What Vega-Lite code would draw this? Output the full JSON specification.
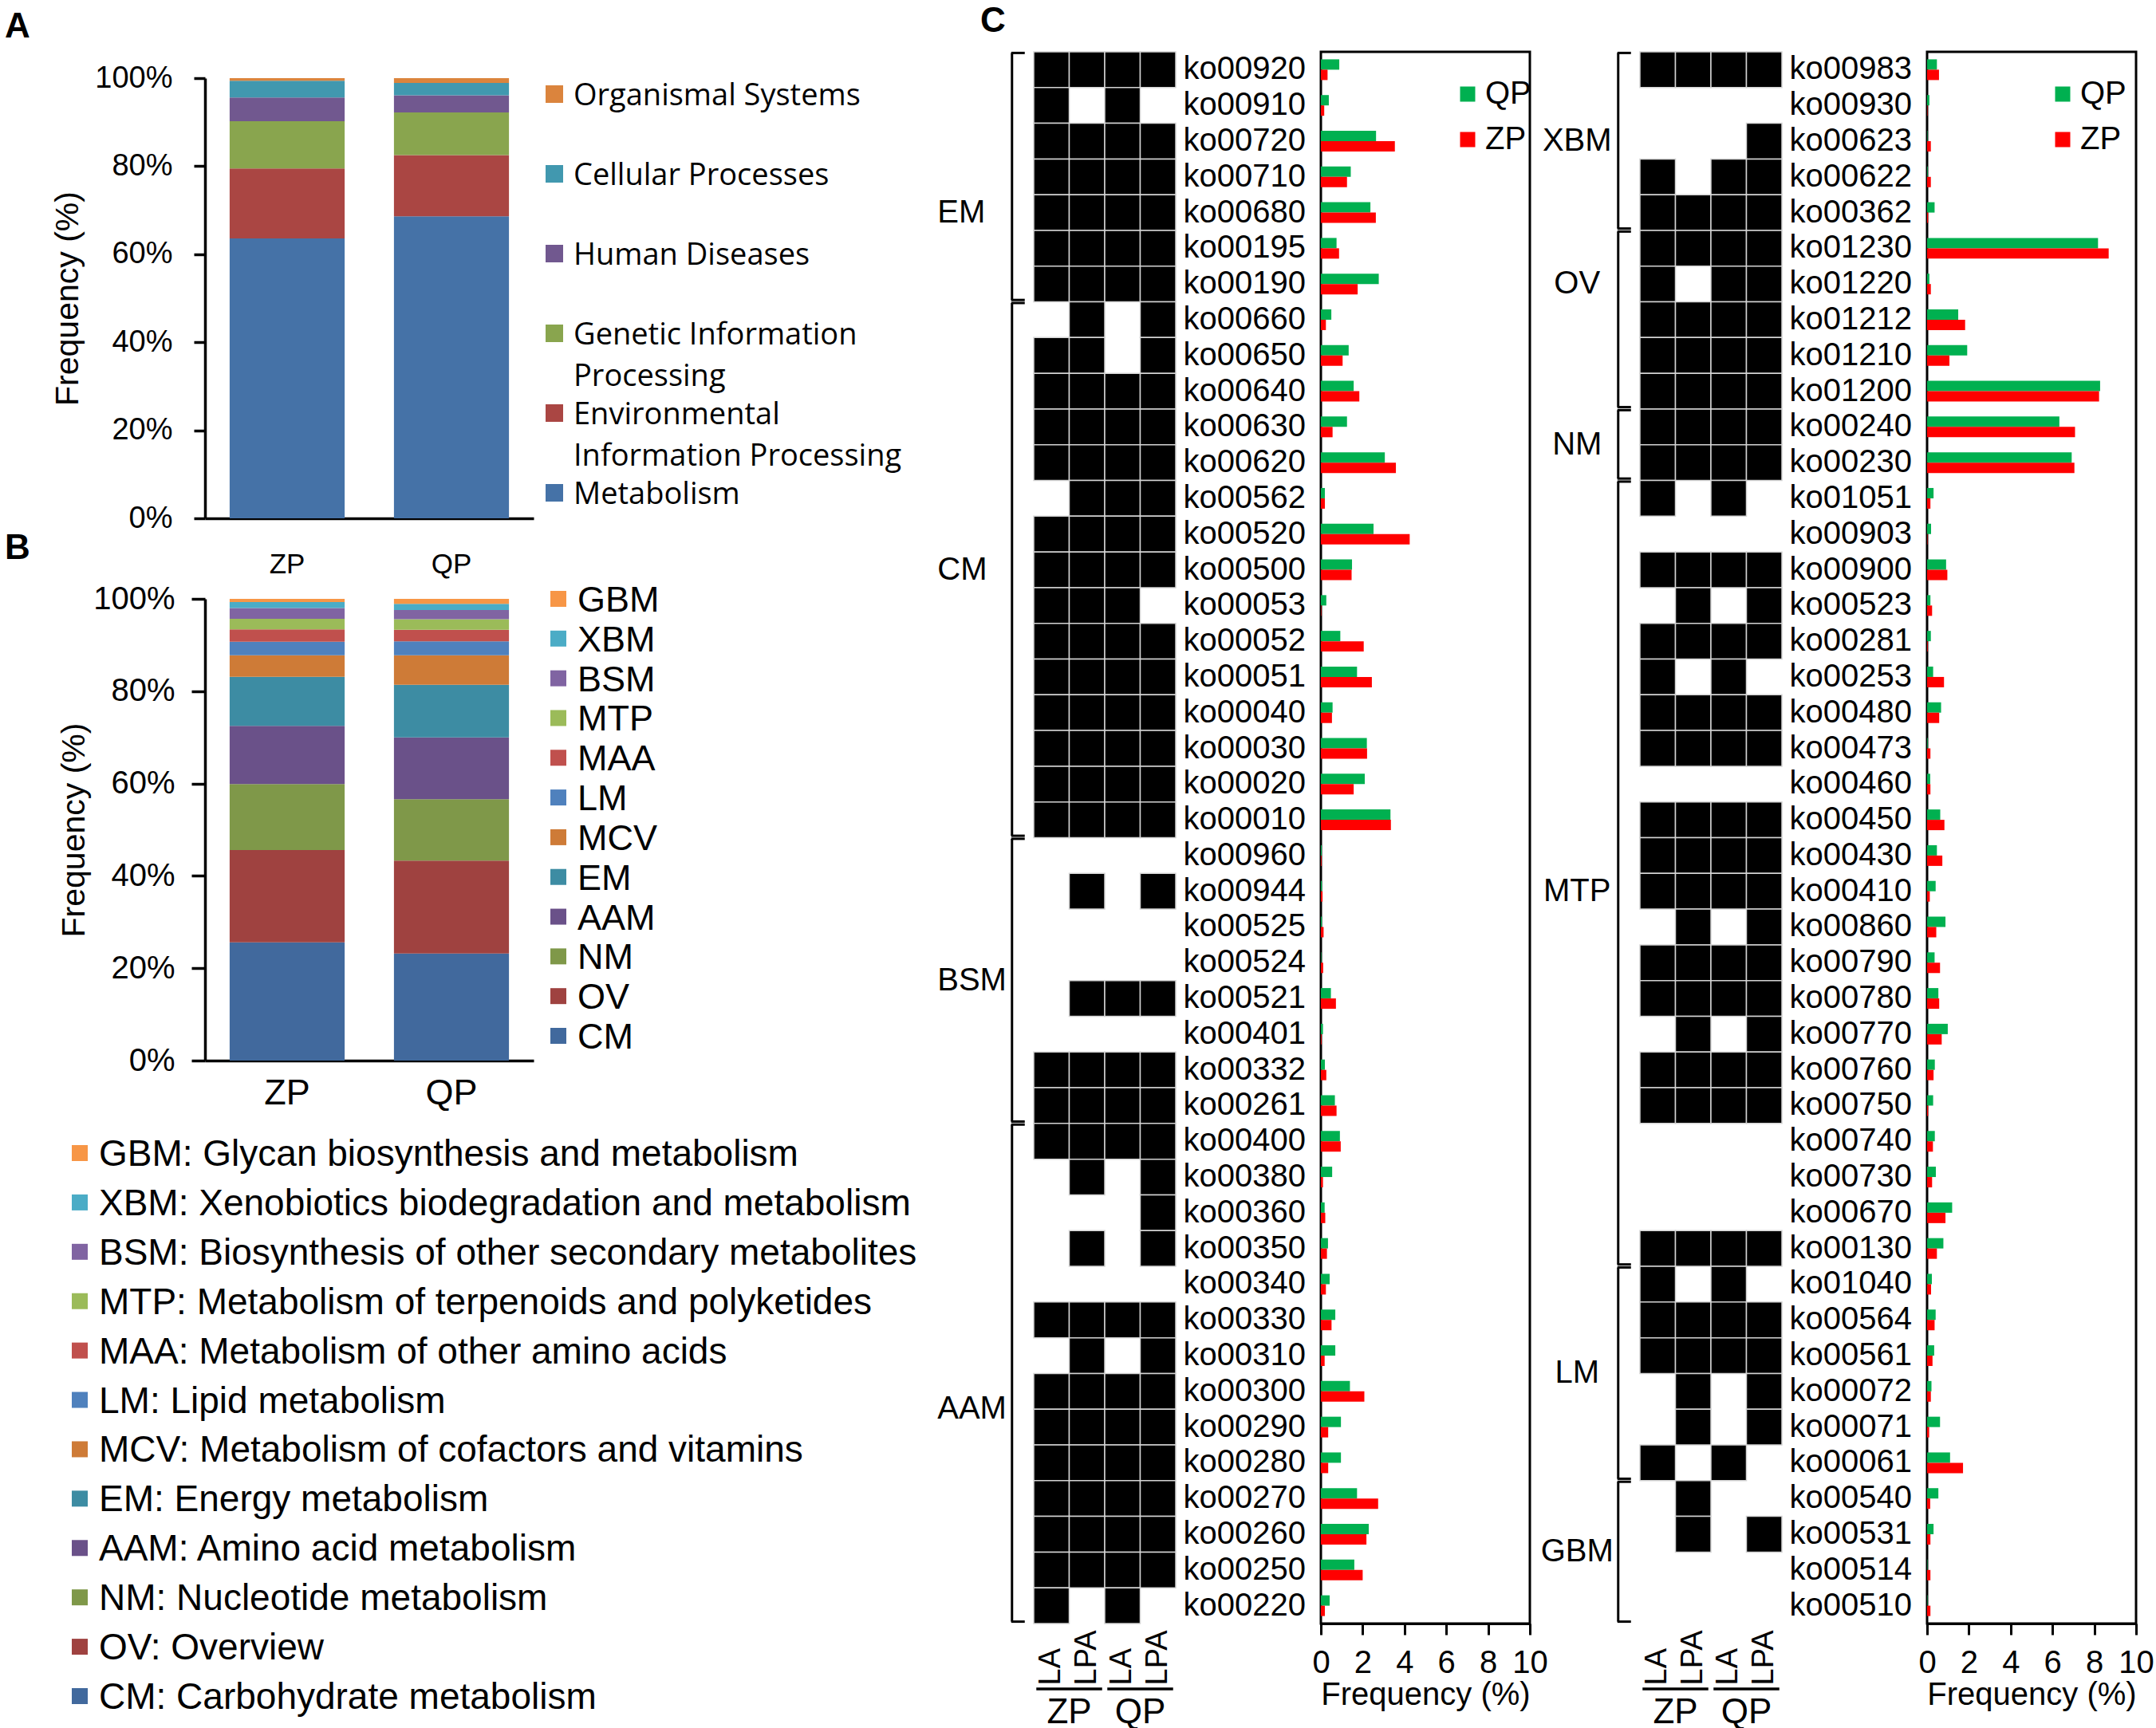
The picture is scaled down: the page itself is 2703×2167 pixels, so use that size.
{
"$schema": "https://vega.github.io/schema/vega-lite/v6.json",
"autosize": {"type": "pad"},
"padding": {"left": 6, "top": 5, "right": 0, "bottom": 0},
"background": "white",
"config": {
  "font": "Liberation Sans",
  "view": {"stroke": null},
  "axis": {"domainColor": "#000", "tickColor": "#000", "labelColor": "#000", "titleColor": "#000", "grid": false, "labelFont": "Liberation Sans", "titleFont": "Liberation Sans", "titleFontWeight": "normal"},
  "legend": {"labelFont": "Liberation Sans", "labelColor": "#000"},
  "title": {"font": "Liberation Sans", "color": "#000"}
},
"datasets": {
  "A": [
    {"s":"ZP","cat":"Metabolism","v":63.6},{"s":"ZP","cat":"Environmental Information Processing","v":15.9},{"s":"ZP","cat":"Genetic Information Processing","v":10.7},{"s":"ZP","cat":"Human Diseases","v":5.4},{"s":"ZP","cat":"Cellular Processes","v":3.8},{"s":"ZP","cat":"Organismal Systems","v":0.6},
    {"s":"QP","cat":"Metabolism","v":68.6},{"s":"QP","cat":"Environmental Information Processing","v":13.9},{"s":"QP","cat":"Genetic Information Processing","v":9.7},{"s":"QP","cat":"Human Diseases","v":3.9},{"s":"QP","cat":"Cellular Processes","v":2.8},{"s":"QP","cat":"Organismal Systems","v":1.1}
  ],
  "legA": [
    {"cat":"Organismal Systems","label":"Organismal Systems"},
    {"cat":"Cellular Processes","label":"Cellular Processes"},
    {"cat":"Human Diseases","label":"Human Diseases"},
    {"cat":"Genetic Information Processing","label":"Genetic Information\nProcessing"},
    {"cat":"Environmental Information Processing","label":"Environmental\nInformation Processing"},
    {"cat":"Metabolism","label":"Metabolism"}
  ],
  "B": [
    {"s":"ZP","cat":"CM","v":25.6},{"s":"ZP","cat":"OV","v":20.0},{"s":"ZP","cat":"NM","v":14.3},{"s":"ZP","cat":"AAM","v":12.6},{"s":"ZP","cat":"EM","v":10.6},{"s":"ZP","cat":"MCV","v":4.7},{"s":"ZP","cat":"LM","v":2.9},{"s":"ZP","cat":"MAA","v":2.7},{"s":"ZP","cat":"MTP","v":2.3},{"s":"ZP","cat":"BSM","v":2.3},{"s":"ZP","cat":"XBM","v":1.3},{"s":"ZP","cat":"GBM","v":0.7},
    {"s":"QP","cat":"CM","v":23.2},{"s":"QP","cat":"OV","v":20.1},{"s":"QP","cat":"NM","v":13.3},{"s":"QP","cat":"AAM","v":13.4},{"s":"QP","cat":"EM","v":11.4},{"s":"QP","cat":"MCV","v":6.4},{"s":"QP","cat":"LM","v":3.0},{"s":"QP","cat":"MAA","v":2.5},{"s":"QP","cat":"MTP","v":2.3},{"s":"QP","cat":"BSM","v":2.0},{"s":"QP","cat":"XBM","v":1.3},{"s":"QP","cat":"GBM","v":1.1}
  ],
  "legB": [
    {"cat":"GBM","desc":"GBM: Glycan biosynthesis and metabolism"},
    {"cat":"XBM","desc":"XBM: Xenobiotics biodegradation and metabolism"},
    {"cat":"BSM","desc":"BSM: Biosynthesis of other secondary metabolites"},
    {"cat":"MTP","desc":"MTP: Metabolism of terpenoids and polyketides"},
    {"cat":"MAA","desc":"MAA: Metabolism of other amino acids"},
    {"cat":"LM","desc":"LM: Lipid metabolism"},
    {"cat":"MCV","desc":"MCV: Metabolism of cofactors and vitamins"},
    {"cat":"EM","desc":"EM: Energy metabolism"},
    {"cat":"AAM","desc":"AAM: Amino acid metabolism"},
    {"cat":"NM","desc":"NM: Nucleotide metabolism"},
    {"cat":"OV","desc":"OV: Overview"},
    {"cat":"CM","desc":"CM: Carbohydrate metabolism"}
  ],
  "left": [
    {"ko":"ko00920","ZP LA":1,"ZP LPA":1,"QP LA":1,"QP LPA":1,"QP":0.88,"ZP":0.32},
    {"ko":"ko00910","ZP LA":1,"ZP LPA":0,"QP LA":1,"QP LPA":0,"QP":0.38,"ZP":0.16},
    {"ko":"ko00720","ZP LA":1,"ZP LPA":1,"QP LA":1,"QP LPA":1,"QP":2.64,"ZP":3.54},
    {"ko":"ko00710","ZP LA":1,"ZP LPA":1,"QP LA":1,"QP LPA":1,"QP":1.43,"ZP":1.25},
    {"ko":"ko00680","ZP LA":1,"ZP LPA":1,"QP LA":1,"QP LPA":1,"QP":2.37,"ZP":2.63},
    {"ko":"ko00195","ZP LA":1,"ZP LPA":1,"QP LA":1,"QP LPA":1,"QP":0.75,"ZP":0.87},
    {"ko":"ko00190","ZP LA":1,"ZP LPA":1,"QP LA":1,"QP LPA":1,"QP":2.77,"ZP":1.76},
    {"ko":"ko00660","ZP LA":0,"ZP LPA":1,"QP LA":0,"QP LPA":1,"QP":0.50,"ZP":0.24},
    {"ko":"ko00650","ZP LA":1,"ZP LPA":1,"QP LA":0,"QP LPA":1,"QP":1.33,"ZP":1.04},
    {"ko":"ko00640","ZP LA":1,"ZP LPA":1,"QP LA":1,"QP LPA":1,"QP":1.57,"ZP":1.84},
    {"ko":"ko00630","ZP LA":1,"ZP LPA":1,"QP LA":1,"QP LPA":1,"QP":1.25,"ZP":0.56},
    {"ko":"ko00620","ZP LA":1,"ZP LPA":1,"QP LA":1,"QP LPA":1,"QP":3.06,"ZP":3.59},
    {"ko":"ko00562","ZP LA":0,"ZP LPA":1,"QP LA":1,"QP LPA":1,"QP":0.19,"ZP":0.19},
    {"ko":"ko00520","ZP LA":1,"ZP LPA":1,"QP LA":1,"QP LPA":1,"QP":2.52,"ZP":4.25},
    {"ko":"ko00500","ZP LA":1,"ZP LPA":1,"QP LA":1,"QP LPA":1,"QP":1.49,"ZP":1.47},
    {"ko":"ko00053","ZP LA":1,"ZP LPA":1,"QP LA":1,"QP LPA":0,"QP":0.26,"ZP":0.02},
    {"ko":"ko00052","ZP LA":1,"ZP LPA":1,"QP LA":1,"QP LPA":1,"QP":0.93,"ZP":2.05},
    {"ko":"ko00051","ZP LA":1,"ZP LPA":1,"QP LA":1,"QP LPA":1,"QP":1.73,"ZP":2.44},
    {"ko":"ko00040","ZP LA":1,"ZP LPA":1,"QP LA":1,"QP LPA":1,"QP":0.56,"ZP":0.53},
    {"ko":"ko00030","ZP LA":1,"ZP LPA":1,"QP LA":1,"QP LPA":1,"QP":2.20,"ZP":2.21},
    {"ko":"ko00020","ZP LA":1,"ZP LPA":1,"QP LA":1,"QP LPA":1,"QP":2.10,"ZP":1.57},
    {"ko":"ko00010","ZP LA":1,"ZP LPA":1,"QP LA":1,"QP LPA":1,"QP":3.33,"ZP":3.35},
    {"ko":"ko00960","ZP LA":0,"ZP LPA":0,"QP LA":0,"QP LPA":0,"QP":0.04,"ZP":0.03},
    {"ko":"ko00944","ZP LA":0,"ZP LPA":1,"QP LA":0,"QP LPA":1,"QP":0.05,"ZP":0.08},
    {"ko":"ko00525","ZP LA":0,"ZP LPA":0,"QP LA":0,"QP LPA":0,"QP":0.05,"ZP":0.13},
    {"ko":"ko00524","ZP LA":0,"ZP LPA":0,"QP LA":0,"QP LPA":0,"QP":0.02,"ZP":0.11},
    {"ko":"ko00521","ZP LA":0,"ZP LPA":1,"QP LA":1,"QP LPA":1,"QP":0.48,"ZP":0.72},
    {"ko":"ko00401","ZP LA":0,"ZP LPA":0,"QP LA":0,"QP LPA":0,"QP":0.10,"ZP":0.03},
    {"ko":"ko00332","ZP LA":1,"ZP LPA":1,"QP LA":1,"QP LPA":1,"QP":0.19,"ZP":0.26},
    {"ko":"ko00261","ZP LA":1,"ZP LPA":1,"QP LA":1,"QP LPA":1,"QP":0.67,"ZP":0.75},
    {"ko":"ko00400","ZP LA":1,"ZP LPA":1,"QP LA":1,"QP LPA":1,"QP":0.91,"ZP":0.95},
    {"ko":"ko00380","ZP LA":0,"ZP LPA":1,"QP LA":0,"QP LPA":1,"QP":0.54,"ZP":0.10},
    {"ko":"ko00360","ZP LA":0,"ZP LPA":0,"QP LA":0,"QP LPA":1,"QP":0.18,"ZP":0.21},
    {"ko":"ko00350","ZP LA":0,"ZP LPA":1,"QP LA":0,"QP LPA":1,"QP":0.34,"ZP":0.29},
    {"ko":"ko00340","ZP LA":0,"ZP LPA":0,"QP LA":0,"QP LPA":0,"QP":0.42,"ZP":0.24},
    {"ko":"ko00330","ZP LA":1,"ZP LPA":1,"QP LA":1,"QP LPA":1,"QP":0.69,"ZP":0.51},
    {"ko":"ko00310","ZP LA":0,"ZP LPA":1,"QP LA":0,"QP LPA":1,"QP":0.69,"ZP":0.18},
    {"ko":"ko00300","ZP LA":1,"ZP LPA":1,"QP LA":1,"QP LPA":1,"QP":1.39,"ZP":2.08},
    {"ko":"ko00290","ZP LA":1,"ZP LPA":1,"QP LA":1,"QP LPA":1,"QP":0.96,"ZP":0.35},
    {"ko":"ko00280","ZP LA":1,"ZP LPA":1,"QP LA":1,"QP LPA":1,"QP":0.96,"ZP":0.35},
    {"ko":"ko00270","ZP LA":1,"ZP LPA":1,"QP LA":1,"QP LPA":1,"QP":1.73,"ZP":2.74},
    {"ko":"ko00260","ZP LA":1,"ZP LPA":1,"QP LA":1,"QP LPA":1,"QP":2.29,"ZP":2.18},
    {"ko":"ko00250","ZP LA":1,"ZP LPA":1,"QP LA":1,"QP LPA":1,"QP":1.60,"ZP":2.00},
    {"ko":"ko00220","ZP LA":1,"ZP LPA":0,"QP LA":1,"QP LPA":0,"QP":0.42,"ZP":0.19}
  ],
  "right": [
    {"ko":"ko00983","ZP LA":1,"ZP LPA":1,"QP LA":1,"QP LPA":1,"QP":0.47,"ZP":0.57},
    {"ko":"ko00930","ZP LA":0,"ZP LPA":0,"QP LA":0,"QP LPA":0,"QP":0.11,"ZP":0.02},
    {"ko":"ko00623","ZP LA":0,"ZP LPA":0,"QP LA":0,"QP LPA":1,"QP":0.02,"ZP":0.18},
    {"ko":"ko00622","ZP LA":1,"ZP LPA":0,"QP LA":1,"QP LPA":1,"QP":0.03,"ZP":0.18},
    {"ko":"ko00362","ZP LA":1,"ZP LPA":1,"QP LA":1,"QP LPA":1,"QP":0.36,"ZP":0.05},
    {"ko":"ko01230","ZP LA":1,"ZP LPA":1,"QP LA":1,"QP LPA":1,"QP":8.18,"ZP":8.69},
    {"ko":"ko01220","ZP LA":1,"ZP LPA":0,"QP LA":1,"QP LPA":1,"QP":0.11,"ZP":0.18},
    {"ko":"ko01212","ZP LA":1,"ZP LPA":1,"QP LA":1,"QP LPA":1,"QP":1.49,"ZP":1.82},
    {"ko":"ko01210","ZP LA":1,"ZP LPA":1,"QP LA":1,"QP LPA":1,"QP":1.92,"ZP":1.07},
    {"ko":"ko01200","ZP LA":1,"ZP LPA":1,"QP LA":1,"QP LPA":1,"QP":8.28,"ZP":8.23},
    {"ko":"ko00240","ZP LA":1,"ZP LPA":1,"QP LA":1,"QP LPA":1,"QP":6.33,"ZP":7.08},
    {"ko":"ko00230","ZP LA":1,"ZP LPA":1,"QP LA":1,"QP LPA":1,"QP":6.92,"ZP":7.05},
    {"ko":"ko01051","ZP LA":1,"ZP LPA":0,"QP LA":1,"QP LPA":0,"QP":0.31,"ZP":0.16},
    {"ko":"ko00903","ZP LA":0,"ZP LPA":0,"QP LA":0,"QP LPA":0,"QP":0.19,"ZP":0.02},
    {"ko":"ko00900","ZP LA":1,"ZP LPA":1,"QP LA":1,"QP LPA":1,"QP":0.91,"ZP":0.97},
    {"ko":"ko00523","ZP LA":0,"ZP LPA":1,"QP LA":0,"QP LPA":1,"QP":0.16,"ZP":0.24},
    {"ko":"ko00281","ZP LA":1,"ZP LPA":1,"QP LA":1,"QP LPA":1,"QP":0.18,"ZP":0.03},
    {"ko":"ko00253","ZP LA":1,"ZP LPA":0,"QP LA":1,"QP LPA":0,"QP":0.29,"ZP":0.81},
    {"ko":"ko00480","ZP LA":1,"ZP LPA":1,"QP LA":1,"QP LPA":1,"QP":0.67,"ZP":0.58},
    {"ko":"ko00473","ZP LA":1,"ZP LPA":1,"QP LA":1,"QP LPA":1,"QP":0.03,"ZP":0.16},
    {"ko":"ko00460","ZP LA":0,"ZP LPA":0,"QP LA":0,"QP LPA":0,"QP":0.15,"ZP":0.16},
    {"ko":"ko00450","ZP LA":1,"ZP LPA":1,"QP LA":1,"QP LPA":1,"QP":0.63,"ZP":0.83},
    {"ko":"ko00430","ZP LA":1,"ZP LPA":1,"QP LA":1,"QP LPA":1,"QP":0.47,"ZP":0.73},
    {"ko":"ko00410","ZP LA":1,"ZP LPA":1,"QP LA":1,"QP LPA":1,"QP":0.41,"ZP":0.13},
    {"ko":"ko00860","ZP LA":0,"ZP LPA":1,"QP LA":0,"QP LPA":1,"QP":0.88,"ZP":0.44},
    {"ko":"ko00790","ZP LA":1,"ZP LPA":1,"QP LA":1,"QP LPA":1,"QP":0.36,"ZP":0.62},
    {"ko":"ko00780","ZP LA":1,"ZP LPA":1,"QP LA":1,"QP LPA":1,"QP":0.54,"ZP":0.58},
    {"ko":"ko00770","ZP LA":0,"ZP LPA":1,"QP LA":0,"QP LPA":1,"QP":0.99,"ZP":0.70},
    {"ko":"ko00760","ZP LA":1,"ZP LPA":1,"QP LA":1,"QP LPA":1,"QP":0.37,"ZP":0.31},
    {"ko":"ko00750","ZP LA":1,"ZP LPA":1,"QP LA":1,"QP LPA":1,"QP":0.29,"ZP":0.05},
    {"ko":"ko00740","ZP LA":0,"ZP LPA":0,"QP LA":0,"QP LPA":0,"QP":0.37,"ZP":0.28},
    {"ko":"ko00730","ZP LA":0,"ZP LPA":0,"QP LA":0,"QP LPA":0,"QP":0.42,"ZP":0.24},
    {"ko":"ko00670","ZP LA":0,"ZP LPA":0,"QP LA":0,"QP LPA":0,"QP":1.20,"ZP":0.88},
    {"ko":"ko00130","ZP LA":1,"ZP LPA":1,"QP LA":1,"QP LPA":1,"QP":0.78,"ZP":0.47},
    {"ko":"ko01040","ZP LA":1,"ZP LPA":0,"QP LA":1,"QP LPA":0,"QP":0.23,"ZP":0.19},
    {"ko":"ko00564","ZP LA":1,"ZP LPA":1,"QP LA":1,"QP LPA":1,"QP":0.41,"ZP":0.36},
    {"ko":"ko00561","ZP LA":1,"ZP LPA":1,"QP LA":1,"QP LPA":1,"QP":0.34,"ZP":0.26},
    {"ko":"ko00072","ZP LA":0,"ZP LPA":1,"QP LA":0,"QP LPA":1,"QP":0.21,"ZP":0.18},
    {"ko":"ko00071","ZP LA":0,"ZP LPA":1,"QP LA":0,"QP LPA":1,"QP":0.62,"ZP":0.10},
    {"ko":"ko00061","ZP LA":1,"ZP LPA":0,"QP LA":1,"QP LPA":0,"QP":1.10,"ZP":1.72},
    {"ko":"ko00540","ZP LA":0,"ZP LPA":1,"QP LA":0,"QP LPA":0,"QP":0.54,"ZP":0.15},
    {"ko":"ko00531","ZP LA":0,"ZP LPA":1,"QP LA":0,"QP LPA":1,"QP":0.31,"ZP":0.16},
    {"ko":"ko00514","ZP LA":0,"ZP LPA":0,"QP LA":0,"QP LPA":0,"QP":0.02,"ZP":0.16},
    {"ko":"ko00510","ZP LA":0,"ZP LPA":0,"QP LA":0,"QP LPA":0,"QP":0.02,"ZP":0.16}
  ],
  "grpL": [
    {"grp":"EM","first":"ko00920","last":"ko00190","mid":"ko00680"},
    {"grp":"CM","first":"ko00660","last":"ko00010","mid":"ko00500"},
    {"grp":"BSM","first":"ko00960","last":"ko00261","mid":"ko00524"},
    {"grp":"AAM","first":"ko00400","last":"ko00220","mid":"ko00300"}
  ],
  "grpR": [
    {"grp":"XBM","first":"ko00983","last":"ko00362","mid":"ko00623"},
    {"grp":"OV","first":"ko01230","last":"ko01200","mid":"ko01220"},
    {"grp":"NM","first":"ko00240","last":"ko00230","mid":"ko00240"},
    {"grp":"MTP","first":"ko01051","last":"ko00130","mid":"ko00410"},
    {"grp":"LM","first":"ko01040","last":"ko00061","mid":"ko00561"},
    {"grp":"GBM","first":"ko00540","last":"ko00510","mid":"ko00531"}
  ],
  "pairs": [
    {"g":"ZP","c1":"ZP LA","c2":"ZP LPA"},
    {"g":"QP","c1":"QP LA","c2":"QP LPA"}
  ]
},
"bounds": "flush",
"spacing": 1107,
"resolve": {"scale": {"color": "independent"}, "legend": {"color": "independent"}},
"hconcat": [
  {
    "vconcat": [
      {
        "hconcat": [
          {"width": 131, "height": 1, "data": {"values": [{}]}, "mark": {"type": "point", "opacity": 0}, "encoding": {}},
          {
            "width": 412, "height": 585,
            "title": {"text": "A", "anchor": "start", "frame": "group", "dx": -251, "offset": -35, "fontSize": 44, "fontWeight": "bold", "baseline": "bottom"},
            "data": {"name": "A"},
            "transform": [{"calculate": "indexof(['Metabolism','Environmental Information Processing','Genetic Information Processing','Human Diseases','Cellular Processes','Organismal Systems'], datum.cat)", "as": "ord"}],
            "mark": {"type": "bar"},
            "encoding": {
              "x": {"field": "s", "type": "nominal", "scale": {"domain": ["ZP","QP"], "paddingInner": 0.3, "paddingOuter": 0.15}, "axis": {"title": null, "labelAngle": 0, "ticks": false, "labelPadding": 40, "labelFontSize": 35, "domainWidth": 3.5}},
              "y": {"field": "v", "type": "quantitative", "stack": "zero", "scale": {"domain": [0, 100], "range": [585, 33], "nice": false}, "axis": {"values": [0,20,40,60,80,100], "labelExpr": "datum.value + '%'", "title": "Frequency (%)", "titleFontSize": 41, "labelFontSize": 38, "tickSize": 14, "labelPadding": 27, "titlePadding": 12, "domainWidth": 3.5, "tickWidth": 3.5}},
              "color": {"field": "cat", "type": "nominal", "scale": {"domain": ["Metabolism","Environmental Information Processing","Genetic Information Processing","Human Diseases","Cellular Processes","Organismal Systems"], "range": ["#4572A7","#AA4643","#89A54E","#71588F","#4198AF","#DB843D"]}, "legend": null},
              "order": {"field": "ord", "type": "quantitative"}
            }
          },
          {
            "width": 400, "height": 585,
            "data": {"name": "legA"},
            "layer": [
              {"mark": {"type": "point", "shape": "square", "filled": true, "size": 484, "opacity": 1},
               "encoding": {
                 "x": {"datum": 0, "type": "quantitative", "scale": {"domain": [0, 1]}, "axis": null},
                 "y": {"field": "cat", "type": "ordinal", "scale": {"type": "point", "domain": ["Organismal Systems","Cellular Processes","Human Diseases","Genetic Information Processing","Environmental Information Processing","Metabolism"], "range": [53, 553], "padding": 0}, "axis": null},
                 "color": {"field": "cat", "type": "nominal", "scale": {"domain": ["Metabolism","Environmental Information Processing","Genetic Information Processing","Human Diseases","Cellular Processes","Organismal Systems"], "range": ["#4572A7","#AA4643","#89A54E","#71588F","#4198AF","#DB843D"]}, "legend": null}
               }},
              {"mark": {"type": "text", "align": "left", "baseline": "alphabetic", "dx": 24, "dy": 14, "font": "Open Sans", "fontSize": 38, "lineBreak": "\n", "lineHeight": 52, "color": "#000"},
               "encoding": {
                 "x": {"datum": 0, "type": "quantitative", "scale": {"domain": [0, 1]}, "axis": null},
                 "y": {"field": "cat", "type": "ordinal", "scale": {"type": "point", "domain": ["Organismal Systems","Cellular Processes","Human Diseases","Genetic Information Processing","Environmental Information Processing","Metabolism"], "range": [53, 553], "padding": 0}, "axis": null},
                 "text": {"field": "label"}
               }}
            ]
          }
        ],
        "spacing": 26,
        "bounds": "flush"
      },
      {
        "hconcat": [
          {"width": 126, "height": 1, "data": {"values": [{}]}, "mark": {"type": "point", "opacity": 0}, "encoding": {}},
          {
            "width": 412, "height": 579,
            "title": {"text": "B", "anchor": "start", "frame": "group", "dx": -251, "offset": -23, "fontSize": 44, "fontWeight": "bold", "baseline": "bottom"},
            "data": {"name": "B"},
            "transform": [{"calculate": "indexof(['CM','OV','NM','AAM','EM','MCV','LM','MAA','MTP','BSM','XBM','GBM'], datum.cat)", "as": "ord"}],
            "mark": {"type": "bar"},
            "encoding": {
              "x": {"field": "s", "type": "nominal", "scale": {"domain": ["ZP","QP"], "paddingInner": 0.3, "paddingOuter": 0.15}, "axis": {"title": null, "labelAngle": 0, "ticks": false, "labelPadding": 18, "labelFontSize": 45, "domainWidth": 3.5}},
              "y": {"field": "v", "type": "quantitative", "stack": "zero", "scale": {"domain": [0, 100], "nice": false}, "axis": {"values": [0,20,40,60,80,100], "labelExpr": "datum.value + '%'", "title": "Frequency (%)", "titleFontSize": 41, "labelFontSize": 40, "tickSize": 17, "labelPadding": 21, "titlePadding": 2, "domainWidth": 3.5, "tickWidth": 3.5}},
              "color": {"field": "cat", "type": "nominal", "scale": {"domain": ["CM","OV","NM","AAM","EM","MCV","LM","MAA","MTP","BSM","XBM","GBM"], "range": ["#41699D","#9F4240","#7F9849","#6A5189","#3D8CA3","#CE7B37","#4F81BD","#C0504D","#9BBB59","#8064A2","#4BACC6","#F79646"]}, "legend": null},
              "order": {"field": "ord", "type": "quantitative"}
            }
          },
          {
            "width": 395, "height": 579,
            "data": {"name": "legB"},
            "layer": [
              {"mark": {"type": "point", "shape": "square", "filled": true, "size": 400, "opacity": 1},
               "encoding": {
                 "x": {"datum": 0, "type": "quantitative", "scale": {"domain": [0, 1]}, "axis": null},
                 "y": {"field": "cat", "type": "ordinal", "scale": {"type": "point", "domain": ["GBM","XBM","BSM","MTP","MAA","LM","MCV","EM","AAM","NM","OV","CM"], "range": [0, 548], "padding": 0}, "axis": null},
                 "color": {"field": "cat", "type": "nominal", "scale": {"domain": ["CM","OV","NM","AAM","EM","MCV","LM","MAA","MTP","BSM","XBM","GBM"], "range": ["#41699D","#9F4240","#7F9849","#6A5189","#3D8CA3","#CE7B37","#4F81BD","#C0504D","#9BBB59","#8064A2","#4BACC6","#F79646"]}, "legend": null}
               }},
              {"mark": {"type": "text", "align": "left", "baseline": "alphabetic", "dx": 24, "dy": 16, "fontSize": 45, "color": "#000"},
               "encoding": {
                 "x": {"datum": 0, "type": "quantitative", "scale": {"domain": [0, 1]}, "axis": null},
                 "y": {"field": "cat", "type": "ordinal", "scale": {"type": "point", "domain": ["GBM","XBM","BSM","MTP","MAA","LM","MCV","EM","AAM","NM","OV","CM"], "range": [0, 548], "padding": 0}, "axis": null},
                 "text": {"field": "cat"}
               }}
            ]
          }
        ],
        "spacing": 31,
        "bounds": "flush"
      },
      {
        "width": 995, "height": 700,
        "data": {"name": "legB"},
        "layer": [
          {"mark": {"type": "point", "shape": "square", "filled": true, "size": 400, "opacity": 1},
           "encoding": {
             "x": {"datum": 0, "type": "quantitative", "scale": {"domain": [0, 1]}, "axis": null},
             "y": {"field": "cat", "type": "ordinal", "scale": {"type": "point", "domain": ["GBM","XBM","BSM","MTP","MAA","LM","MCV","EM","AAM","NM","OV","CM"], "range": [9, 690], "padding": 0}, "axis": null},
             "color": {"field": "cat", "type": "nominal", "scale": {"domain": ["CM","OV","NM","AAM","EM","MCV","LM","MAA","MTP","BSM","XBM","GBM"], "range": ["#41699D","#9F4240","#7F9849","#6A5189","#3D8CA3","#CE7B37","#4F81BD","#C0504D","#9BBB59","#8064A2","#4BACC6","#F79646"]}, "legend": null}
           }},
          {"mark": {"type": "text", "align": "left", "baseline": "alphabetic", "dx": 24, "dy": 16, "fontSize": 46, "color": "#000"},
           "encoding": {
             "x": {"datum": 0, "type": "quantitative", "scale": {"domain": [0, 1]}, "axis": null},
             "y": {"field": "cat", "type": "ordinal", "scale": {"type": "point", "domain": ["GBM","XBM","BSM","MTP","MAA","LM","MCV","EM","AAM","NM","OV","CM"], "range": [9, 690], "padding": 0}, "axis": null},
             "text": {"field": "desc"}
           }}
        ]
      }
    ],
    "spacing": 686,
    "bounds": "flush",
    "resolve": {"scale": {"color": "independent"}, "legend": {"color": "independent"}}
  },
  {
    "hconcat": [
      {
        "hconcat": [
          {
            "vconcat": [
              {
                "width": 267, "height": 1971,
                "title": {"text": "C", "anchor": "start", "frame": "group", "dx": 22, "offset": -29, "fontSize": 44, "fontWeight": "bold", "baseline": "bottom"},
                "layer": [
                  {
                    "data": {"name": "left"},
                    "transform": [{"fold": ["ZP LA","ZP LPA","QP LA","QP LPA"], "as": ["col","on"]}, {"filter": "datum.on == 1"}],
                    "mark": {"type": "rect", "fill": "#000", "stroke": "#d4d4d4", "strokeWidth": 1.5},
                    "encoding": {
                      "x": {"field": "col", "type": "ordinal", "scale": {"domain": ["g","b","ZP LA","ZP LPA","QP LA","QP LPA"], "paddingInner": 0, "paddingOuter": 0}, "axis": {"values": ["ZP LA","ZP LPA","QP LA","QP LPA"], "labelExpr": "split(datum.value, ' ')[1]", "labelAngle": 270, "labelAlign": "left", "labelBaseline": "middle", "labelPadding": 77, "ticks": false, "tickSize": 0, "domain": false, "labelFontSize": 38, "title": null}},
                      "y": {"field": "ko", "type": "ordinal", "scale": {"domain": ["ko00920","ko00910","ko00720","ko00710","ko00680","ko00195","ko00190","ko00660","ko00650","ko00640","ko00630","ko00620","ko00562","ko00520","ko00500","ko00053","ko00052","ko00051","ko00040","ko00030","ko00020","ko00010","ko00960","ko00944","ko00525","ko00524","ko00521","ko00401","ko00332","ko00261","ko00400","ko00380","ko00360","ko00350","ko00340","ko00330","ko00310","ko00300","ko00290","ko00280","ko00270","ko00260","ko00250","ko00220"], "paddingInner": 0, "paddingOuter": 0}, "axis": {"orient": "right", "ticks": false, "domain": false, "labelPadding": 9, "labelFontSize": 40, "labelLimit": 0, "title": null, "labelAlign": "left", "labelBaseline": "middle", "labelOverlap": false}}
                    }
                  },
                  {
                    "data": {"name": "grpL"},
                    "mark": {"type": "rule", "strokeWidth": 3, "color": "#000", "xOffset": -5, "yOffset": -21, "y2Offset": 20},
                    "encoding": {
                      "x": {"datum": "b", "type": "ordinal", "scale": {"domain": ["g","b","ZP LA","ZP LPA","QP LA","QP LPA"]}},
                      "y": {"field": "first", "type": "ordinal", "title": null, "scale": {"domain": ["ko00920","ko00910","ko00720","ko00710","ko00680","ko00195","ko00190","ko00660","ko00650","ko00640","ko00630","ko00620","ko00562","ko00520","ko00500","ko00053","ko00052","ko00051","ko00040","ko00030","ko00020","ko00010","ko00960","ko00944","ko00525","ko00524","ko00521","ko00401","ko00332","ko00261","ko00400","ko00380","ko00360","ko00350","ko00340","ko00330","ko00310","ko00300","ko00290","ko00280","ko00270","ko00260","ko00250","ko00220"]}},
                      "y2": {"field": "last"}
                    }
                  },
                  {
                    "data": {"name": "grpL"},
                    "mark": {"type": "rule", "strokeWidth": 3, "color": "#000", "xOffset": -6, "x2Offset": 11, "yOffset": -21},
                    "encoding": {
                      "x": {"datum": "b", "type": "ordinal", "scale": {"domain": ["g","b","ZP LA","ZP LPA","QP LA","QP LPA"]}},
                      "x2": {"datum": "b"},
                      "y": {"field": "first", "type": "ordinal", "title": null, "scale": {"domain": ["ko00920","ko00910","ko00720","ko00710","ko00680","ko00195","ko00190","ko00660","ko00650","ko00640","ko00630","ko00620","ko00562","ko00520","ko00500","ko00053","ko00052","ko00051","ko00040","ko00030","ko00020","ko00010","ko00960","ko00944","ko00525","ko00524","ko00521","ko00401","ko00332","ko00261","ko00400","ko00380","ko00360","ko00350","ko00340","ko00330","ko00310","ko00300","ko00290","ko00280","ko00270","ko00260","ko00250","ko00220"]}}
                    }
                  },
                  {
                    "data": {"name": "grpL"},
                    "mark": {"type": "rule", "strokeWidth": 3, "color": "#000", "xOffset": -6, "x2Offset": 11, "yOffset": 20},
                    "encoding": {
                      "x": {"datum": "b", "type": "ordinal", "scale": {"domain": ["g","b","ZP LA","ZP LPA","QP LA","QP LPA"]}},
                      "x2": {"datum": "b"},
                      "y": {"field": "last", "type": "ordinal", "title": null, "scale": {"domain": ["ko00920","ko00910","ko00720","ko00710","ko00680","ko00195","ko00190","ko00660","ko00650","ko00640","ko00630","ko00620","ko00562","ko00520","ko00500","ko00053","ko00052","ko00051","ko00040","ko00030","ko00020","ko00010","ko00960","ko00944","ko00525","ko00524","ko00521","ko00401","ko00332","ko00261","ko00400","ko00380","ko00360","ko00350","ko00340","ko00330","ko00310","ko00300","ko00290","ko00280","ko00270","ko00260","ko00250","ko00220"]}}
                    }
                  },
                  {
                    "data": {"name": "grpL"},
                    "transform": [{"filter": {"not": {"field": "grp", "oneOf": ["BSM","AAM","NM","LM","GBM"]}}}],
                    "mark": {"type": "text", "align": "left", "baseline": "middle", "fontSize": 40, "xOffset": -54, "color": "#000"},
                    "encoding": {
                      "x": {"datum": "g", "type": "ordinal", "scale": {"domain": ["g","b","ZP LA","ZP LPA","QP LA","QP LPA"]}},
                      "y": {"field": "mid", "type": "ordinal", "title": null, "scale": {"domain": ["ko00920","ko00910","ko00720","ko00710","ko00680","ko00195","ko00190","ko00660","ko00650","ko00640","ko00630","ko00620","ko00562","ko00520","ko00500","ko00053","ko00052","ko00051","ko00040","ko00030","ko00020","ko00010","ko00960","ko00944","ko00525","ko00524","ko00521","ko00401","ko00332","ko00261","ko00400","ko00380","ko00360","ko00350","ko00340","ko00330","ko00310","ko00300","ko00290","ko00280","ko00270","ko00260","ko00250","ko00220"]}},
                      "text": {"field": "grp"}
                    }
                  },
                  {
                    "data": {"name": "grpL"},
                    "transform": [{"filter": {"field": "grp", "oneOf": ["BSM","AAM","NM","LM","GBM"]}}],
                    "mark": {"type": "text", "align": "left", "baseline": "middle", "fontSize": 40, "xOffset": -54, "yOffset": 22.4, "color": "#000"},
                    "encoding": {
                      "x": {"datum": "g", "type": "ordinal", "scale": {"domain": ["g","b","ZP LA","ZP LPA","QP LA","QP LPA"]}},
                      "y": {"field": "mid", "type": "ordinal", "title": null, "scale": {"domain": ["ko00920","ko00910","ko00720","ko00710","ko00680","ko00195","ko00190","ko00660","ko00650","ko00640","ko00630","ko00620","ko00562","ko00520","ko00500","ko00053","ko00052","ko00051","ko00040","ko00030","ko00020","ko00010","ko00960","ko00944","ko00525","ko00524","ko00521","ko00401","ko00332","ko00261","ko00400","ko00380","ko00360","ko00350","ko00340","ko00330","ko00310","ko00300","ko00290","ko00280","ko00270","ko00260","ko00250","ko00220"]}},
                      "text": {"field": "grp"}
                    }
                  }
                ]
              },
              {
                "width": 267, "height": 50,
                "data": {"name": "pairs"},
                "layer": [
                  {"mark": {"type": "rule", "strokeWidth": 3.5, "color": "#000", "xOffset": -19, "x2Offset": 19},
                   "encoding": {
                     "x": {"field": "c1", "type": "ordinal", "scale": {"domain": ["g","b","ZP LA","ZP LPA","QP LA","QP LPA"], "paddingInner": 0, "paddingOuter": 0}, "axis": null},
                     "x2": {"field": "c2"},
                     "y": {"datum": 1, "type": "quantitative", "scale": {"domain": [0, 1]}, "axis": null}
                   }},
                  {"mark": {"type": "text", "fontSize": 44, "xOffset": 22.25, "baseline": "middle", "color": "#000"},
                   "encoding": {
                     "x": {"field": "c1", "type": "ordinal", "scale": {"domain": ["g","b","ZP LA","ZP LPA","QP LA","QP LPA"], "paddingInner": 0, "paddingOuter": 0}, "axis": null},
                     "y": {"datum": 0.4, "type": "quantitative", "scale": {"domain": [0, 1]}, "axis": null},
                     "text": {"field": "g"}
                   }}
                ]
              }
            ],
            "spacing": 82,
            "bounds": "flush"
          },
          {
            "width": 262, "height": 1971,
            "view": {"stroke": "#000", "strokeWidth": 3},
            "data": {"name": "left"},
            "transform": [{"fold": ["QP","ZP"], "as": ["key","value"]}],
            "mark": {"type": "bar"},
            "encoding": {
              "y": {"field": "ko", "type": "ordinal", "scale": {"domain": ["ko00920","ko00910","ko00720","ko00710","ko00680","ko00195","ko00190","ko00660","ko00650","ko00640","ko00630","ko00620","ko00562","ko00520","ko00500","ko00053","ko00052","ko00051","ko00040","ko00030","ko00020","ko00010","ko00960","ko00944","ko00525","ko00524","ko00521","ko00401","ko00332","ko00261","ko00400","ko00380","ko00360","ko00350","ko00340","ko00330","ko00310","ko00300","ko00290","ko00280","ko00270","ko00260","ko00250","ko00220"], "paddingInner": 0.42, "paddingOuter": 0.21}, "axis": null},
              "yOffset": {"field": "key", "type": "nominal", "scale": {"domain": ["QP","ZP"], "paddingInner": 0, "paddingOuter": 0}},
              "x": {"field": "value", "type": "quantitative", "scale": {"domain": [0, 10], "nice": false}, "axis": {"values": [0,2,4,6,8,10], "title": "Frequency (%)", "titleFontSize": 40, "labelFontSize": 40, "tickSize": 14, "labelPadding": 15, "titlePadding": 0, "domainWidth": 3, "tickWidth": 3, "labelFlush": false, "labelOverlap": false}},
              "color": {"field": "key", "type": "nominal", "scale": {"domain": ["QP","ZP"], "range": ["#00B050","#FF0000"]}, "legend": {"orient": "none", "legendX": 164, "legendY": 33, "title": null, "symbolType": "square", "symbolSize": 361, "labelFontSize": 40, "rowPadding": 17, "labelOffset": 2, "padding": 0, "symbolStrokeWidth": 0}}
            }
          }
        ],
        "spacing": 449,
        "bounds": "flush",
        "resolve": {"scale": {"color": "independent"}, "legend": {"color": "independent"}}
      },
      {
        "hconcat": [
          {
            "vconcat": [
              {
                "width": 267, "height": 1971,
                "layer": [
                  {
                    "data": {"name": "right"},
                    "transform": [{"fold": ["ZP LA","ZP LPA","QP LA","QP LPA"], "as": ["col","on"]}, {"filter": "datum.on == 1"}],
                    "mark": {"type": "rect", "fill": "#000", "stroke": "#d4d4d4", "strokeWidth": 1.5},
                    "encoding": {
                      "x": {"field": "col", "type": "ordinal", "scale": {"domain": ["g","b","ZP LA","ZP LPA","QP LA","QP LPA"], "paddingInner": 0, "paddingOuter": 0}, "axis": {"values": ["ZP LA","ZP LPA","QP LA","QP LPA"], "labelExpr": "split(datum.value, ' ')[1]", "labelAngle": 270, "labelAlign": "left", "labelBaseline": "middle", "labelPadding": 77, "ticks": false, "tickSize": 0, "domain": false, "labelFontSize": 38, "title": null}},
                      "y": {"field": "ko", "type": "ordinal", "scale": {"domain": ["ko00983","ko00930","ko00623","ko00622","ko00362","ko01230","ko01220","ko01212","ko01210","ko01200","ko00240","ko00230","ko01051","ko00903","ko00900","ko00523","ko00281","ko00253","ko00480","ko00473","ko00460","ko00450","ko00430","ko00410","ko00860","ko00790","ko00780","ko00770","ko00760","ko00750","ko00740","ko00730","ko00670","ko00130","ko01040","ko00564","ko00561","ko00072","ko00071","ko00061","ko00540","ko00531","ko00514","ko00510"], "paddingInner": 0, "paddingOuter": 0}, "axis": {"orient": "right", "ticks": false, "domain": false, "labelPadding": 9, "labelFontSize": 40, "labelLimit": 0, "title": null, "labelAlign": "left", "labelBaseline": "middle", "labelOverlap": false}}
                    }
                  },
                  {
                    "data": {"name": "grpR"},
                    "mark": {"type": "rule", "strokeWidth": 3, "color": "#000", "xOffset": -5, "yOffset": -21, "y2Offset": 20},
                    "encoding": {
                      "x": {"datum": "b", "type": "ordinal", "scale": {"domain": ["g","b","ZP LA","ZP LPA","QP LA","QP LPA"]}},
                      "y": {"field": "first", "type": "ordinal", "title": null, "scale": {"domain": ["ko00983","ko00930","ko00623","ko00622","ko00362","ko01230","ko01220","ko01212","ko01210","ko01200","ko00240","ko00230","ko01051","ko00903","ko00900","ko00523","ko00281","ko00253","ko00480","ko00473","ko00460","ko00450","ko00430","ko00410","ko00860","ko00790","ko00780","ko00770","ko00760","ko00750","ko00740","ko00730","ko00670","ko00130","ko01040","ko00564","ko00561","ko00072","ko00071","ko00061","ko00540","ko00531","ko00514","ko00510"]}},
                      "y2": {"field": "last"}
                    }
                  },
                  {
                    "data": {"name": "grpR"},
                    "mark": {"type": "rule", "strokeWidth": 3, "color": "#000", "xOffset": -6, "x2Offset": 11, "yOffset": -21},
                    "encoding": {
                      "x": {"datum": "b", "type": "ordinal", "scale": {"domain": ["g","b","ZP LA","ZP LPA","QP LA","QP LPA"]}},
                      "x2": {"datum": "b"},
                      "y": {"field": "first", "type": "ordinal", "title": null, "scale": {"domain": ["ko00983","ko00930","ko00623","ko00622","ko00362","ko01230","ko01220","ko01212","ko01210","ko01200","ko00240","ko00230","ko01051","ko00903","ko00900","ko00523","ko00281","ko00253","ko00480","ko00473","ko00460","ko00450","ko00430","ko00410","ko00860","ko00790","ko00780","ko00770","ko00760","ko00750","ko00740","ko00730","ko00670","ko00130","ko01040","ko00564","ko00561","ko00072","ko00071","ko00061","ko00540","ko00531","ko00514","ko00510"]}}
                    }
                  },
                  {
                    "data": {"name": "grpR"},
                    "mark": {"type": "rule", "strokeWidth": 3, "color": "#000", "xOffset": -6, "x2Offset": 11, "yOffset": 20},
                    "encoding": {
                      "x": {"datum": "b", "type": "ordinal", "scale": {"domain": ["g","b","ZP LA","ZP LPA","QP LA","QP LPA"]}},
                      "x2": {"datum": "b"},
                      "y": {"field": "last", "type": "ordinal", "title": null, "scale": {"domain": ["ko00983","ko00930","ko00623","ko00622","ko00362","ko01230","ko01220","ko01212","ko01210","ko01200","ko00240","ko00230","ko01051","ko00903","ko00900","ko00523","ko00281","ko00253","ko00480","ko00473","ko00460","ko00450","ko00430","ko00410","ko00860","ko00790","ko00780","ko00770","ko00760","ko00750","ko00740","ko00730","ko00670","ko00130","ko01040","ko00564","ko00561","ko00072","ko00071","ko00061","ko00540","ko00531","ko00514","ko00510"]}}
                    }
                  },
                  {
                    "data": {"name": "grpR"},
                    "transform": [{"filter": {"not": {"field": "grp", "oneOf": ["BSM","AAM","NM","LM","GBM"]}}}],
                    "mark": {"type": "text", "align": "center", "baseline": "middle", "fontSize": 40, "xOffset": -12, "color": "#000"},
                    "encoding": {
                      "x": {"datum": "g", "type": "ordinal", "scale": {"domain": ["g","b","ZP LA","ZP LPA","QP LA","QP LPA"]}},
                      "y": {"field": "mid", "type": "ordinal", "title": null, "scale": {"domain": ["ko00983","ko00930","ko00623","ko00622","ko00362","ko01230","ko01220","ko01212","ko01210","ko01200","ko00240","ko00230","ko01051","ko00903","ko00900","ko00523","ko00281","ko00253","ko00480","ko00473","ko00460","ko00450","ko00430","ko00410","ko00860","ko00790","ko00780","ko00770","ko00760","ko00750","ko00740","ko00730","ko00670","ko00130","ko01040","ko00564","ko00561","ko00072","ko00071","ko00061","ko00540","ko00531","ko00514","ko00510"]}},
                      "text": {"field": "grp"}
                    }
                  },
                  {
                    "data": {"name": "grpR"},
                    "transform": [{"filter": {"field": "grp", "oneOf": ["BSM","AAM","NM","LM","GBM"]}}],
                    "mark": {"type": "text", "align": "center", "baseline": "middle", "fontSize": 40, "xOffset": -12, "yOffset": 22.4, "color": "#000"},
                    "encoding": {
                      "x": {"datum": "g", "type": "ordinal", "scale": {"domain": ["g","b","ZP LA","ZP LPA","QP LA","QP LPA"]}},
                      "y": {"field": "mid", "type": "ordinal", "title": null, "scale": {"domain": ["ko00983","ko00930","ko00623","ko00622","ko00362","ko01230","ko01220","ko01212","ko01210","ko01200","ko00240","ko00230","ko01051","ko00903","ko00900","ko00523","ko00281","ko00253","ko00480","ko00473","ko00460","ko00450","ko00430","ko00410","ko00860","ko00790","ko00780","ko00770","ko00760","ko00750","ko00740","ko00730","ko00670","ko00130","ko01040","ko00564","ko00561","ko00072","ko00071","ko00061","ko00540","ko00531","ko00514","ko00510"]}},
                      "text": {"field": "grp"}
                    }
                  }
                ]
              },
              {
                "width": 267, "height": 50,
                "data": {"name": "pairs"},
                "layer": [
                  {"mark": {"type": "rule", "strokeWidth": 3.5, "color": "#000", "xOffset": -19, "x2Offset": 19},
                   "encoding": {
                     "x": {"field": "c1", "type": "ordinal", "scale": {"domain": ["g","b","ZP LA","ZP LPA","QP LA","QP LPA"], "paddingInner": 0, "paddingOuter": 0}, "axis": null},
                     "x2": {"field": "c2"},
                     "y": {"datum": 1, "type": "quantitative", "scale": {"domain": [0, 1]}, "axis": null}
                   }},
                  {"mark": {"type": "text", "fontSize": 44, "xOffset": 22.25, "baseline": "middle", "color": "#000"},
                   "encoding": {
                     "x": {"field": "c1", "type": "ordinal", "scale": {"domain": ["g","b","ZP LA","ZP LPA","QP LA","QP LPA"], "paddingInner": 0, "paddingOuter": 0}, "axis": null},
                     "y": {"datum": 0.4, "type": "quantitative", "scale": {"domain": [0, 1]}, "axis": null},
                     "text": {"field": "g"}
                   }}
                ]
              }
            ],
            "spacing": 82,
            "bounds": "flush"
          },
          {
            "width": 262, "height": 1971,
            "view": {"stroke": "#000", "strokeWidth": 3},
            "data": {"name": "right"},
            "transform": [{"fold": ["QP","ZP"], "as": ["key","value"]}],
            "mark": {"type": "bar"},
            "encoding": {
              "y": {"field": "ko", "type": "ordinal", "scale": {"domain": ["ko00983","ko00930","ko00623","ko00622","ko00362","ko01230","ko01220","ko01212","ko01210","ko01200","ko00240","ko00230","ko01051","ko00903","ko00900","ko00523","ko00281","ko00253","ko00480","ko00473","ko00460","ko00450","ko00430","ko00410","ko00860","ko00790","ko00780","ko00770","ko00760","ko00750","ko00740","ko00730","ko00670","ko00130","ko01040","ko00564","ko00561","ko00072","ko00071","ko00061","ko00540","ko00531","ko00514","ko00510"], "paddingInner": 0.42, "paddingOuter": 0.21}, "axis": null},
              "yOffset": {"field": "key", "type": "nominal", "scale": {"domain": ["QP","ZP"], "paddingInner": 0, "paddingOuter": 0}},
              "x": {"field": "value", "type": "quantitative", "scale": {"domain": [0, 10], "nice": false}, "axis": {"values": [0,2,4,6,8,10], "title": "Frequency (%)", "titleFontSize": 40, "labelFontSize": 40, "tickSize": 14, "labelPadding": 15, "titlePadding": 0, "domainWidth": 3, "tickWidth": 3, "labelFlush": false, "labelOverlap": false}},
              "color": {"field": "key", "type": "nominal", "scale": {"domain": ["QP","ZP"], "range": ["#00B050","#FF0000"]}, "legend": {"orient": "none", "legendX": 150, "legendY": 33, "title": null, "symbolType": "square", "symbolSize": 361, "labelFontSize": 40, "rowPadding": 17, "labelOffset": 2, "padding": 0, "symbolStrokeWidth": 0}}
            }
          }
        ],
        "spacing": 449,
        "bounds": "flush",
        "resolve": {"scale": {"color": "independent"}, "legend": {"color": "independent"}}
      }
    ],
    "spacing": 760,
    "bounds": "flush",
    "resolve": {"scale": {"color": "independent"}, "legend": {"color": "independent"}}
  }
]
}
